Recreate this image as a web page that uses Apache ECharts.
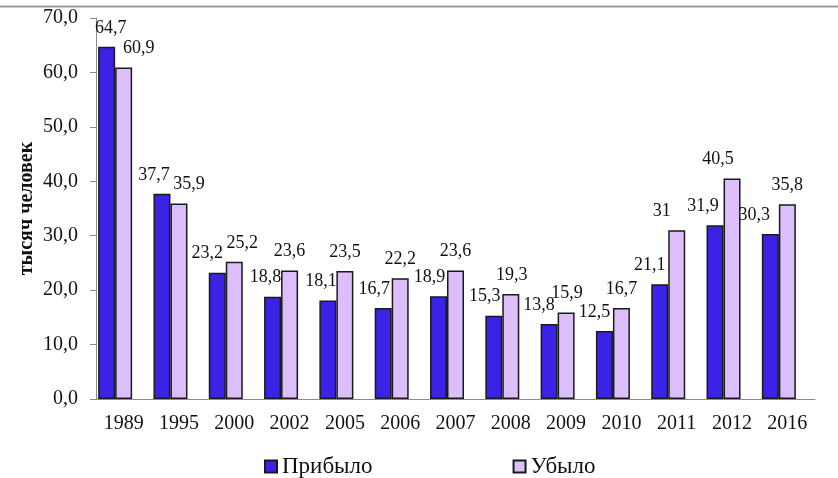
<!DOCTYPE html>
<html>
<head>
<meta charset="utf-8">
<script src="https://cdn.jsdelivr.net/npm/echarts@6/dist/echarts.min.js"></script>
<style>
  html, body { margin: 0; padding: 0; background: #fff; }
  #chart { width: 838px; height: 478px; }
</style>
</head>
<body>
<div id="chart"></div>
<script>
// данные
const years = ['1989', '1995', '2000', '2002', '2005', '2006', '2007', '2008', '2009', '2010', '2011', '2012', '2016']
const arrived = [64.7, 37.7, 23.2, 18.8, 18.1, 16.7, 18.9, 15.3, 13.8, 12.5, 21.1, 31.9, 30.3]
const departed = [60.9, 35.9, 25.2, 23.6, 23.5, 22.2, 23.6, 19.3, 15.9, 16.7, 31, 40.5, 35.8]

// сдвиг подписей (как в исходной картинке)
const arrivedLabelDx = [4, -8, -10, -7, -7, -9, -9, -9, -10, -10, -10, -12, -16]
const departedLabelDx = [15, 10, 8, 0, 0, 0, 0, 1, 1, 0, -15, -14, 0]

const fmt = (v) => String(v).replace('.', ',')
const serif = 'Liberation Serif'

const labelStyle = {
  show: true,
  position: 'top',
  distance: 10,
  fontFamily: serif,
  fontSize: 18,
  color: '#111',
  formatter: (p) => fmt(p.value),
}

const makeData = (values, dx) =>
  values.map((v, i) => ({ value: v, label: { offset: [dx[i], 0] } }))

const chart = echarts.init(document.getElementById('chart'))
const option = {
  animation: false,
  grid: { left: 96, right: 23, top: 18, bottom: 79 },
  graphic: [
    {
      type: 'line',
      shape: { x1: 0, y1: 6.5, x2: 838, y2: 6.5 },
      style: { stroke: '#9c9c9c', lineWidth: 2 },
    },
  ],
  legend: {
    data: ['Прибыло', 'Убыло'],
    left: 259,
    top: 450,
    itemGap: 140,
    itemWidth: 12,
    itemHeight: 12,
    icon: 'rect',
    textStyle: { fontFamily: serif, fontSize: 23, color: '#111' },
  },
  xAxis: {
    type: 'category',
    data: years,
    axisLine: { lineStyle: { color: '#8a8a8a', width: 1 } },
    axisTick: { length: 7, lineStyle: { color: '#8a8a8a' } },
    axisLabel: { fontFamily: serif, fontSize: 20, color: '#111', margin: 15 },
  },
  yAxis: {
    type: 'value',
    min: 0,
    max: 70,
    interval: 10,
    name: 'тысяч человек',
    nameLocation: 'middle',
    nameGap: 59,
    nameMoveOverlap: false,
    nameTextStyle: {
      fontFamily: serif,
      fontWeight: 'bold',
      fontSize: 20,
      color: '#111',
    },
    axisLine: { show: true, lineStyle: { color: '#8a8a8a', width: 1 } },
    axisTick: { show: true, length: 6, lineStyle: { color: '#8a8a8a' } },
    splitLine: { show: false },
    axisLabel: {
      fontFamily: serif,
      fontSize: 20,
      color: '#111',
      margin: 18,
      formatter: (v) => v.toFixed(1).replace('.', ','),
    },
  },
  series: [
    {
      name: 'Прибыло',
      type: 'bar',
      barWidth: 17,
      barGap: '0%',
      itemStyle: { color: '#3a22e6', borderColor: '#1a1a1a', borderWidth: 1.5 },
      label: labelStyle,
      data: makeData(arrived, arrivedLabelDx),
    },
    {
      name: 'Убыло',
      type: 'bar',
      barWidth: 17,
      barGap: '0%',
      itemStyle: { color: '#dcbefb', borderColor: '#1a1a1a', borderWidth: 1.5 },
      label: labelStyle,
      data: makeData(departed, departedLabelDx),
    },
    {
      // пустой ряд, как в исходной диаграмме
      name: '',
      type: 'bar',
      barWidth: 17,
      barGap: '0%',
      data: [],
    },
  ],
}
chart.setOption(option)
window.addEventListener('resize', () => {
  chart.resize()
})
</script>
</body>
</html>
